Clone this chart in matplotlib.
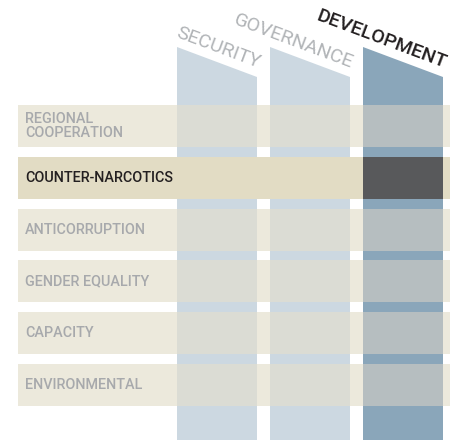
import numpy as np
import matplotlib
matplotlib.use("Agg")
import matplotlib.pyplot as plt
from matplotlib.patches import Rectangle, Polygon

# 데이터
pillars = ["SECURITY", "GOVERNANCE", "DEVELOPMENT"]
themes = ["REGIONAL\nCOOPERATION", "COUNTER-NARCOTICS", "ANTICORRUPTION",
          "GENDER EQUALITY", "CAPACITY", "ENVIRONMENTAL"]
active_pillar = [False, False, True]
active_theme = [False, True, False, False, False, False]

# 색상
col_light = "#CCD8E1"
col_dark = "#8AA6BA"
row_color = "#ECE9DC"
row_active = "#E2DCC4"
cell_light = "#DBDCD4"
cell_dark = "#B6BEC0"
cell_hit = "#58595B"
txt_off = "#A7A9AC"
txt_on = "#231F20"

fonts = ["Roboto", "DejaVu Sans"]

# 배치 (픽셀 단위)
W, H = 451, 440
col_x0, col_step, col_w = 177, 93, 80
col_top_l, col_top_r = 47, 77
row_y0, row_step, row_h = 105, 51.8, 42
row_x0, row_x1 = 18, 450

fig = plt.figure(figsize=(W / 100, H / 100), dpi=100)
ax = fig.add_axes([0, 0, 1, 1])
ax.set_xlim(0, W)
ax.set_ylim(H, 0)
ax.axis("off")

# 세로 기둥
for j, name in enumerate(pillars):
    x0 = col_x0 + j * col_step
    x1 = x0 + col_w
    c = col_dark if active_pillar[j] else col_light
    ax.add_patch(Polygon([(x0, col_top_l), (x1, col_top_r), (x1, H), (x0, H)],
                         closed=True, facecolor=c, edgecolor="none", zorder=1))
    ang = -np.degrees(np.arctan((col_top_r - col_top_l) / col_w))
    ax.text(x1 + 1, col_top_r - 9, name, rotation=ang, rotation_mode="anchor",
            ha="right", va="baseline", fontsize=14, family=fonts,
            fontweight="medium" if active_pillar[j] else "normal",
            color=txt_on if active_pillar[j] else "#B1B4B7", zorder=3)

# 가로 행
for i, name in enumerate(themes):
    y0 = row_y0 + i * row_step
    on = active_theme[i]
    ax.add_patch(Rectangle((row_x0, y0), row_x1 - row_x0, row_h,
                           facecolor=row_active if on else row_color,
                           edgecolor="none", zorder=2))
    for j in range(len(pillars)):
        x0 = col_x0 + j * col_step
        if on:
            c = cell_hit if active_pillar[j] else row_active
        else:
            c = cell_dark if active_pillar[j] else cell_light
        ax.add_patch(Rectangle((x0, y0), col_w, row_h, facecolor=c,
                               edgecolor="none", zorder=2.5))
    ax.text(25, y0 + row_h / 2, name, ha="left", va="center", fontsize=10.4,
            family=fonts, fontweight="medium", linespacing=0.95,
            color=txt_on if on else txt_off, zorder=3)

fig.savefig("out.png", dpi=100)
